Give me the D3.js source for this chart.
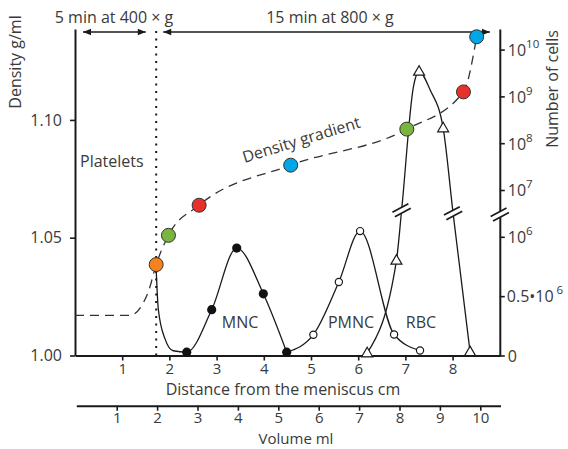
<!DOCTYPE html>
<html><head><meta charset="utf-8">
<script src="https://cdn.jsdelivr.net/npm/d3@7"></script>
<style>
body{margin:0;background:#fff}
text{font-family:"Open Sans",sans-serif;fill:#3a3a3a}
</style>
</head><body>
<svg id="c" width="568" height="449"></svg>
<script>
// ---------- data ----------
const densityTicks = [1.00, 1.05, 1.10];
const distanceTicks = [1, 2, 3, 4, 5, 6, 7, 8];
const volumeTicks = [1, 2, 3, 4, 5, 6, 7, 8, 9, 10];
const logTicks = [1e6, 1e7, 1e8, 1e9, 1e10];
const logExponents = ["6", "7", "8", "9", "10"];
const linTicks = [0, 0.5e6];

// density gradient line (distance cm, density g/ml)
const gradientX = [0, 1.16, 1.55, 1.72, 1.98, 2.63, 4.57, 7.03, 8.23, 8.51];
const gradientD = [1.0170, 1.0170, 1.0269, 1.0386, 1.0510, 1.0638, 1.0808, 1.0961, 1.1119, 1.1353];
// density marker beads
const beadX = [1.72, 1.98, 2.63, 4.57, 7.03, 8.23, 8.51];
const beadD = [1.0386, 1.0510, 1.0638, 1.0808, 1.0961, 1.1119, 1.1353];
const beadColor = ["#f5821f", "#7ab63e", "#e8302a", "#00a6e6", "#7ab63e", "#e8302a", "#00a6e6"];

// MNC (mononuclear cells) curve, number of cells
const mncX = [1.716, 1.765, 1.907, 2.08, 2.367, 2.896, 3.426, 3.99, 4.485];
const mncN = [0.765e6, 0.39e6, 0.14e6, 0.04e6, 0.028e6, 0.386e6, 0.905e6, 0.52e6, 0.028e6];
const mncDot = [false, false, false, false, true, true, true, true, true];

// PMNC curve
const pmncX = [4.485, 5.05, 5.59, 6.04, 6.76, 7.31];
const pmncN = [0.028e6, 0.175e6, 0.619e6, 1.048e6, 0.177e6, 0.042e6];
const pmncDot = [false, true, true, true, true, true];

// RBC curve
const rbcX = [6.19, 6.81, 6.92, 7.17, 7.29, 7.52, 7.80, 8.01, 8.37];
const rbcN = [0.02e6, 0.8e6, 3.7e6, 1.6e9, 3.4e9, 1.4e9, 2.1e8, 3.2e6, 0.03e6];
const rbcDot = [true, true, false, false, true, false, true, false, true];
const rbcBreaks = [2, 7];

const phaseBoundary = 1.72;

// ---------- scales ----------
const svg = d3.select("#c");
const x = d3.scaleLinear().domain([0, 9]).range([75, 499.8]);
const xv = d3.scaleLinear().domain([0, 10.5]).range([76.3, 500.5]);
const yD = d3.scaleLinear().domain([1.0, 1.1386]).range([355.5, 29]);
const yLin = d3.scaleLinear().domain([0, 1e6]).range([355.5, 236.8]);
const yLog = d3.scaleLog().domain([1e6, Math.pow(10, 10.44)]).range([236.8, 29]);
const yC = v => v <= 1e6 ? yLin(v) : yLog(v);

const ink = "#1a1a1a";
const FS = 16, TS = 15;

// ---------- axes ----------
const leftAx = svg.append("g").attr("transform", `translate(${x(0)},0)`)
  .call(d3.axisLeft(yD).tickValues(densityTicks).tickFormat(d3.format(".2f")).tickSize(5).tickPadding(8).tickSizeOuter(0));
const botAx = svg.append("g").attr("transform", `translate(0,${yD(1.0)})`)
  .call(d3.axisBottom(x).tickValues(distanceTicks).tickSize(5).tickPadding(3).tickSizeOuter(0));
const volAx = svg.append("g").attr("transform", "translate(0,405.7)")
  .call(d3.axisBottom(xv).tickValues(volumeTicks).tickSize(5).tickPadding(2).tickSizeOuter(0));
const rLog = svg.append("g").attr("transform", `translate(${x(9)},0)`)
  .call(d3.axisRight(yLog).tickValues(logTicks).tickFormat("").tickSize(5).tickSizeOuter(0));
const rLin = svg.append("g").attr("transform", `translate(${x(9)},0)`)
  .call(d3.axisRight(yLin).tickValues(linTicks).tickFormat("").tickSize(5).tickSizeOuter(0));

[leftAx, botAx, volAx, rLog, rLin].forEach(g => {
  g.selectAll("path.domain").attr("stroke", ink).attr("stroke-width", 2);
  g.selectAll(".tick line").attr("stroke", ink).attr("stroke-width", 1.6);
  g.selectAll(".tick text").attr("font-size", TS).attr("font-family", "Open Sans").attr("fill", "#3a3a3a");
});
leftAx.selectAll(".tick text").attr("font-size", FS);

// right axis labels
const rlab = svg.append("g").attr("font-size", FS);
logTicks.forEach((v, i) => {
  const t = rlab.append("text").attr("x", x(9) + 8).attr("y", yLog(v) + 6.5);
  t.append("tspan").text("10");
  t.append("tspan").attr("dy", -8).attr("font-size", 11.5).text(logExponents[i]);
});
{
  const t = rlab.append("text").attr("x", x(9) + 7).attr("y", yLin(0.5e6) + 6);
  t.append("tspan").text("0.5\u202210");
  t.append("tspan").attr("dx", 3).attr("dy", -8).attr("font-size", 11.5).text("6");
  rlab.append("text").attr("x", x(9) + 8).attr("y", yLin(0) + 6.5).text("0");
}

// axis titles
svg.append("text").attr("transform", "translate(21,62) rotate(-90)").attr("text-anchor", "middle")
  .attr("font-size", FS).text("Density g/ml");
svg.append("text").attr("transform", "translate(558,89) rotate(-90)").attr("text-anchor", "middle")
  .attr("font-size", FS).text("Number of cells");
svg.append("text").attr("x", 283).attr("y", 395).attr("text-anchor", "middle")
  .attr("font-size", FS).text("Distance from the meniscus cm");
svg.append("text").attr("x", 296).attr("y", 444).attr("text-anchor", "middle")
  .attr("font-size", 15).text("Volume ml");

// ---------- top annotations ----------
function arrowHead(tx, ty, dir) {
  svg.append("path").attr("d", `M${tx},${ty} L${tx - dir * 8},${ty - 3.2} L${tx - dir * 8},${ty + 3.2} Z`).attr("fill", ink);
}
const ay = 32;
svg.append("line").attr("x1", x(0.17)).attr("x2", x(1.50)).attr("y1", ay).attr("y2", ay).attr("stroke", ink).attr("stroke-width", 1.4);
arrowHead(x(0.17), ay, -1); arrowHead(x(1.50), ay, 1);
svg.append("line").attr("x1", x(1.87)).attr("x2", x(8.79)).attr("y1", ay).attr("y2", ay).attr("stroke", ink).attr("stroke-width", 1.4);
arrowHead(x(1.87), ay, -1); arrowHead(x(8.79), ay, 1);
svg.append("text").attr("x", 114).attr("y", 23).attr("text-anchor", "middle").attr("font-size", FS).text("5 min at 400 \u00d7 g");
svg.append("text").attr("x", 330).attr("y", 23).attr("text-anchor", "middle").attr("font-size", FS).text("15 min at 800 \u00d7 g");

// dotted phase boundary
svg.append("line").attr("x1", x(phaseBoundary)).attr("x2", x(phaseBoundary)).attr("y1", 31).attr("y2", yD(1.0))
  .attr("stroke", ink).attr("stroke-width", 2).attr("stroke-dasharray", "2,5.5");

// ---------- density gradient ----------
const gLine = d3.line().curve(d3.curveMonotoneX);
svg.append("path").attr("d", gLine(gradientX.map((v, i) => [x(v), yD(gradientD[i])])))
  .attr("fill", "none").attr("stroke", "#333").attr("stroke-width", 1.3).attr("stroke-dasharray", "9,6");

// ---------- cell curves ----------
const cLine = d3.line().curve(d3.curveMonotoneX);
function curve(xs, ns, yf) {
  svg.append("path").attr("d", cLine(xs.map((v, i) => [x(v), yf(ns[i])])))
    .attr("fill", "none").attr("stroke", ink).attr("stroke-width", 1.3);
}
curve(mncX, mncN, yLin);
curve(pmncX, pmncN, yLin);
curve(rbcX, rbcN, yC);

// break marks
function brk(cx, cy) {
  const g = svg.append("g").attr("transform", `translate(${cx},${cy}) rotate(-28)`);
  g.append("rect").attr("x", -9).attr("y", -2.6).attr("width", 18).attr("height", 5.2).attr("fill", "#fff");
  [-2.6, 2.6].forEach(o => g.append("line").attr("x1", -9).attr("x2", 9).attr("y1", o).attr("y2", o)
    .attr("stroke", ink).attr("stroke-width", 1.7));
}
rbcBreaks.forEach(i => brk(x(rbcX[i]), yC(rbcN[i])));
brk(x(9), yC(3.0e6));

// markers
svg.append("g").selectAll("circle").data(mncX.map((v, i) => [v, mncN[i], mncDot[i]]).filter(d => d[2]))
  .join("circle").attr("cx", d => x(d[0])).attr("cy", d => yLin(d[1])).attr("r", 4.6).attr("fill", "#111");
svg.append("g").selectAll("circle").data(pmncX.map((v, i) => [v, pmncN[i], pmncDot[i]]).filter(d => d[2]))
  .join("circle").attr("cx", d => x(d[0])).attr("cy", d => yLin(d[1])).attr("r", 3.6)
  .attr("fill", "#fff").attr("stroke", ink).attr("stroke-width", 1.2);
const tri = d3.symbol().type(d3.symbolTriangle).size(52);
svg.append("g").selectAll("path").data(rbcX.map((v, i) => [v, rbcN[i], rbcDot[i]]).filter(d => d[2]))
  .join("path").attr("d", tri).attr("transform", d => `translate(${x(d[0])},${yC(d[1]) + 0.5})`)
  .attr("fill", "#fff").attr("stroke", ink).attr("stroke-width", 1.2);

// density beads
svg.append("g").selectAll("circle").data(beadX.map((v, i) => [v, beadD[i], beadColor[i]]))
  .join("circle").attr("cx", d => x(d[0])).attr("cy", d => yD(d[1])).attr("r", 7)
  .attr("fill", d => d[2]).attr("stroke", "#333").attr("stroke-width", 1);

// ---------- labels ----------
svg.append("text").attr("x", 80).attr("y", 167).attr("font-size", FS).text("Platelets");
svg.append("text").attr("x", 240).attr("y", 328).attr("text-anchor", "middle").attr("font-size", FS).text("MNC");
svg.append("text").attr("x", 351).attr("y", 328).attr("text-anchor", "middle").attr("font-size", FS).text("PMNC");
svg.append("text").attr("x", 421).attr("y", 328).attr("text-anchor", "middle").attr("font-size", FS).text("RBC");
svg.append("text").attr("transform", "translate(303,145) rotate(-17)").attr("text-anchor", "middle")
  .attr("font-size", FS).text("Density gradient");
</script>
</body></html>
